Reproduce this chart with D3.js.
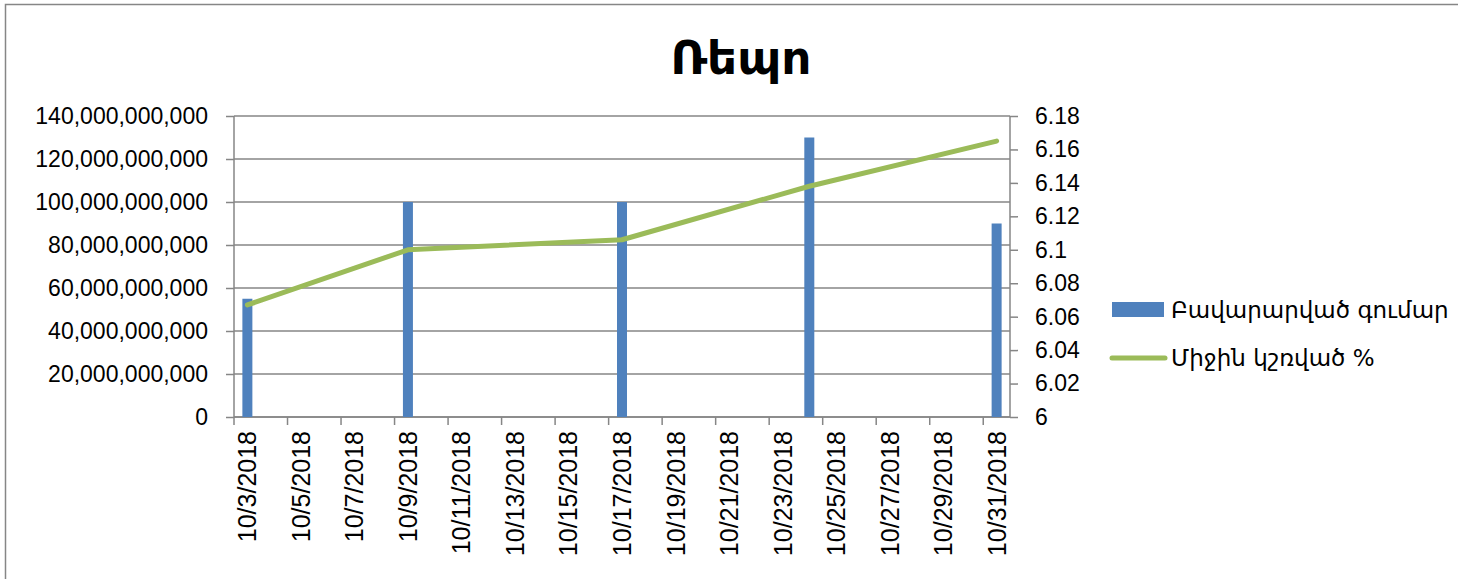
<!DOCTYPE html>
<html>
<head>
<meta charset="utf-8">
<script src="https://cdnjs.cloudflare.com/ajax/libs/d3/7.8.5/d3.min.js"></script>
<style>
  body { margin: 0; background: #fff; }
  text { font-family: "Liberation Sans", "DejaVu Sans", sans-serif; fill: #000; }
  .arm { font-family: "DejaVu Sans", sans-serif; }
</style>
</head>
<body>
<svg id="chart"></svg>
<script>
// chart data
var title = "Ռեպո";
var barLabel = "Բավարարված գումար";
var lineLabel = "Միջին կշռված %";
var dealDates = ["2018-10-03", "2018-10-09", "2018-10-17", "2018-10-24", "2018-10-31"];
var amounts = [55000000000, 100000000000, 100000000000, 130000000000, 90000000000];
var rates = [6.067, 6.1, 6.106, 6.138, 6.165];
var leftTicks = [0, 20e9, 40e9, 60e9, 80e9, 100e9, 120e9, 140e9];
var rightTicks = [6, 6.02, 6.04, 6.06, 6.08, 6.1, 6.12, 6.14, 6.16, 6.18];

var width = 1458, height = 579;
var plotLeft = 234, plotRight = 1010, plotTop = 116, plotBottom = 417;
var gray = "#868686";

var parse = d3.timeParse("%Y-%m-%d");
var fmtDay = d3.timeFormat("%-m/%-d/%Y");
var start = parse("2018-10-03"), end = parse("2018-10-31");
var days = d3.timeDay.range(start, d3.timeDay.offset(end, 1)).map(fmtDay);

var svg = d3.select("#chart")
    .attr("width", width)
    .attr("height", height);

// outer chart border
svg.append("rect")
    .attr("x", 5.5).attr("y", 4.5)
    .attr("width", width + 20).attr("height", height + 20)
    .attr("fill", "none").attr("stroke", gray).attr("stroke-width", 1.5);

var x = d3.scaleBand().domain(days).range([plotLeft, plotRight]).padding(0);
var yL = d3.scaleLinear().domain([0, 140e9]).range([plotBottom, plotTop]);
var yR = d3.scaleLinear().domain([6, 6.18]).range([plotBottom, plotTop]);

// gridlines
svg.append("g").selectAll("line")
    .data(leftTicks)
    .enter().append("line")
    .attr("x1", plotLeft).attr("x2", plotRight)
    .attr("y1", function(d) { return yL(d); })
    .attr("y2", function(d) { return yL(d); })
    .attr("stroke", gray).attr("stroke-width", 1.5);

// left axis
var leftAxis = d3.axisLeft(yL).tickValues(leftTicks).tickSize(8).tickPadding(18)
    .tickFormat(d3.format(",.0f"));
var gL = svg.append("g")
    .attr("transform", "translate(" + plotLeft + ",0)")
    .call(leftAxis);

// right axis
var rightAxis = d3.axisRight(yR).tickValues(rightTicks).tickSize(8).tickPadding(17)
    .tickFormat(function(d) { return String(+d.toFixed(2)); });
var gR = svg.append("g")
    .attr("transform", "translate(" + plotRight + ",0)")
    .call(rightAxis);

// bottom axis: ticks at band boundaries every 2 days, labels at band centres
var evenDays = days.filter(function(d, i) { return i % 2 === 0; });
var gB = svg.append("g").attr("transform", "translate(0," + plotBottom + ")");
gB.append("line")
    .attr("x1", plotLeft).attr("x2", plotRight)
    .attr("stroke", gray).attr("stroke-width", 1.5);
gB.selectAll("line.tick")
    .data(evenDays)
    .enter().append("line")
    .attr("class", "tick")
    .attr("x1", function(d) { return x(d); })
    .attr("x2", function(d) { return x(d); })
    .attr("y1", 0).attr("y2", 8)
    .attr("stroke", gray).attr("stroke-width", 1.5);
gB.selectAll("text")
    .data(evenDays)
    .enter().append("text")
    .attr("transform", function(d) {
        return "translate(" + (x(d) + x.bandwidth() / 2 + 9) + ",14) rotate(-90)";
    })
    .attr("text-anchor", "end")
    .style("font-size", "25px")
    .text(function(d) { return d; });

[gL, gR].forEach(function(g) {
    g.select(".domain").attr("stroke", gray).attr("stroke-width", 1.5);
    g.selectAll(".tick line").attr("stroke", gray).attr("stroke-width", 1.5);
    g.selectAll(".tick text").style("font-size", "23px").attr("fill", "#000")
        .style("font-family", "'Liberation Sans', 'DejaVu Sans', sans-serif");
});
gL.select(".domain").attr("d", "M0," + plotTop + "V" + plotBottom);
gR.select(".domain").attr("d", "M0," + plotTop + "V" + plotBottom);

// bars
var barW = 10;
svg.append("g").selectAll("rect")
    .data(dealDates)
    .enter().append("rect")
    .attr("x", function(d) { return x(fmtDay(parse(d))) + x.bandwidth() / 2 - barW / 2; })
    .attr("y", function(d, i) { return yL(amounts[i]); })
    .attr("width", barW)
    .attr("height", function(d, i) { return plotBottom - yL(amounts[i]); })
    .attr("fill", "#4F81BD");

// rate line
var line = d3.line()
    .x(function(d) { return x(fmtDay(parse(d))) + x.bandwidth() / 2; })
    .y(function(d, i) { return yR(rates[i]); });
svg.append("path")
    .datum(dealDates)
    .attr("d", line)
    .attr("fill", "none")
    .attr("stroke", "#9BBB59")
    .attr("stroke-width", 5)
    .attr("stroke-linecap", "round")
    .attr("stroke-linejoin", "round");

// title
svg.append("text")
    .attr("class", "arm")
    .attr("x", 741).attr("y", 74)
    .attr("text-anchor", "middle")
    .style("font-size", "47px")
    .style("font-weight", "bold")
    .text(title);

// legend
var lg = svg.append("g");
lg.append("rect")
    .attr("x", 1112).attr("y", 302).attr("width", 52).attr("height", 15)
    .attr("fill", "#4F81BD");
lg.append("line")
    .attr("x1", 1112).attr("x2", 1165).attr("y1", 358).attr("y2", 358)
    .attr("stroke", "#9BBB59").attr("stroke-width", 5).attr("stroke-linecap", "round");
lg.append("text").attr("class", "arm")
    .attr("x", 1171).attr("y", 318).style("font-size", "23px").text(barLabel);
lg.append("text").attr("class", "arm")
    .attr("x", 1171).attr("y", 366).style("font-size", "23px").text(lineLabel);
</script>
</body>
</html>
